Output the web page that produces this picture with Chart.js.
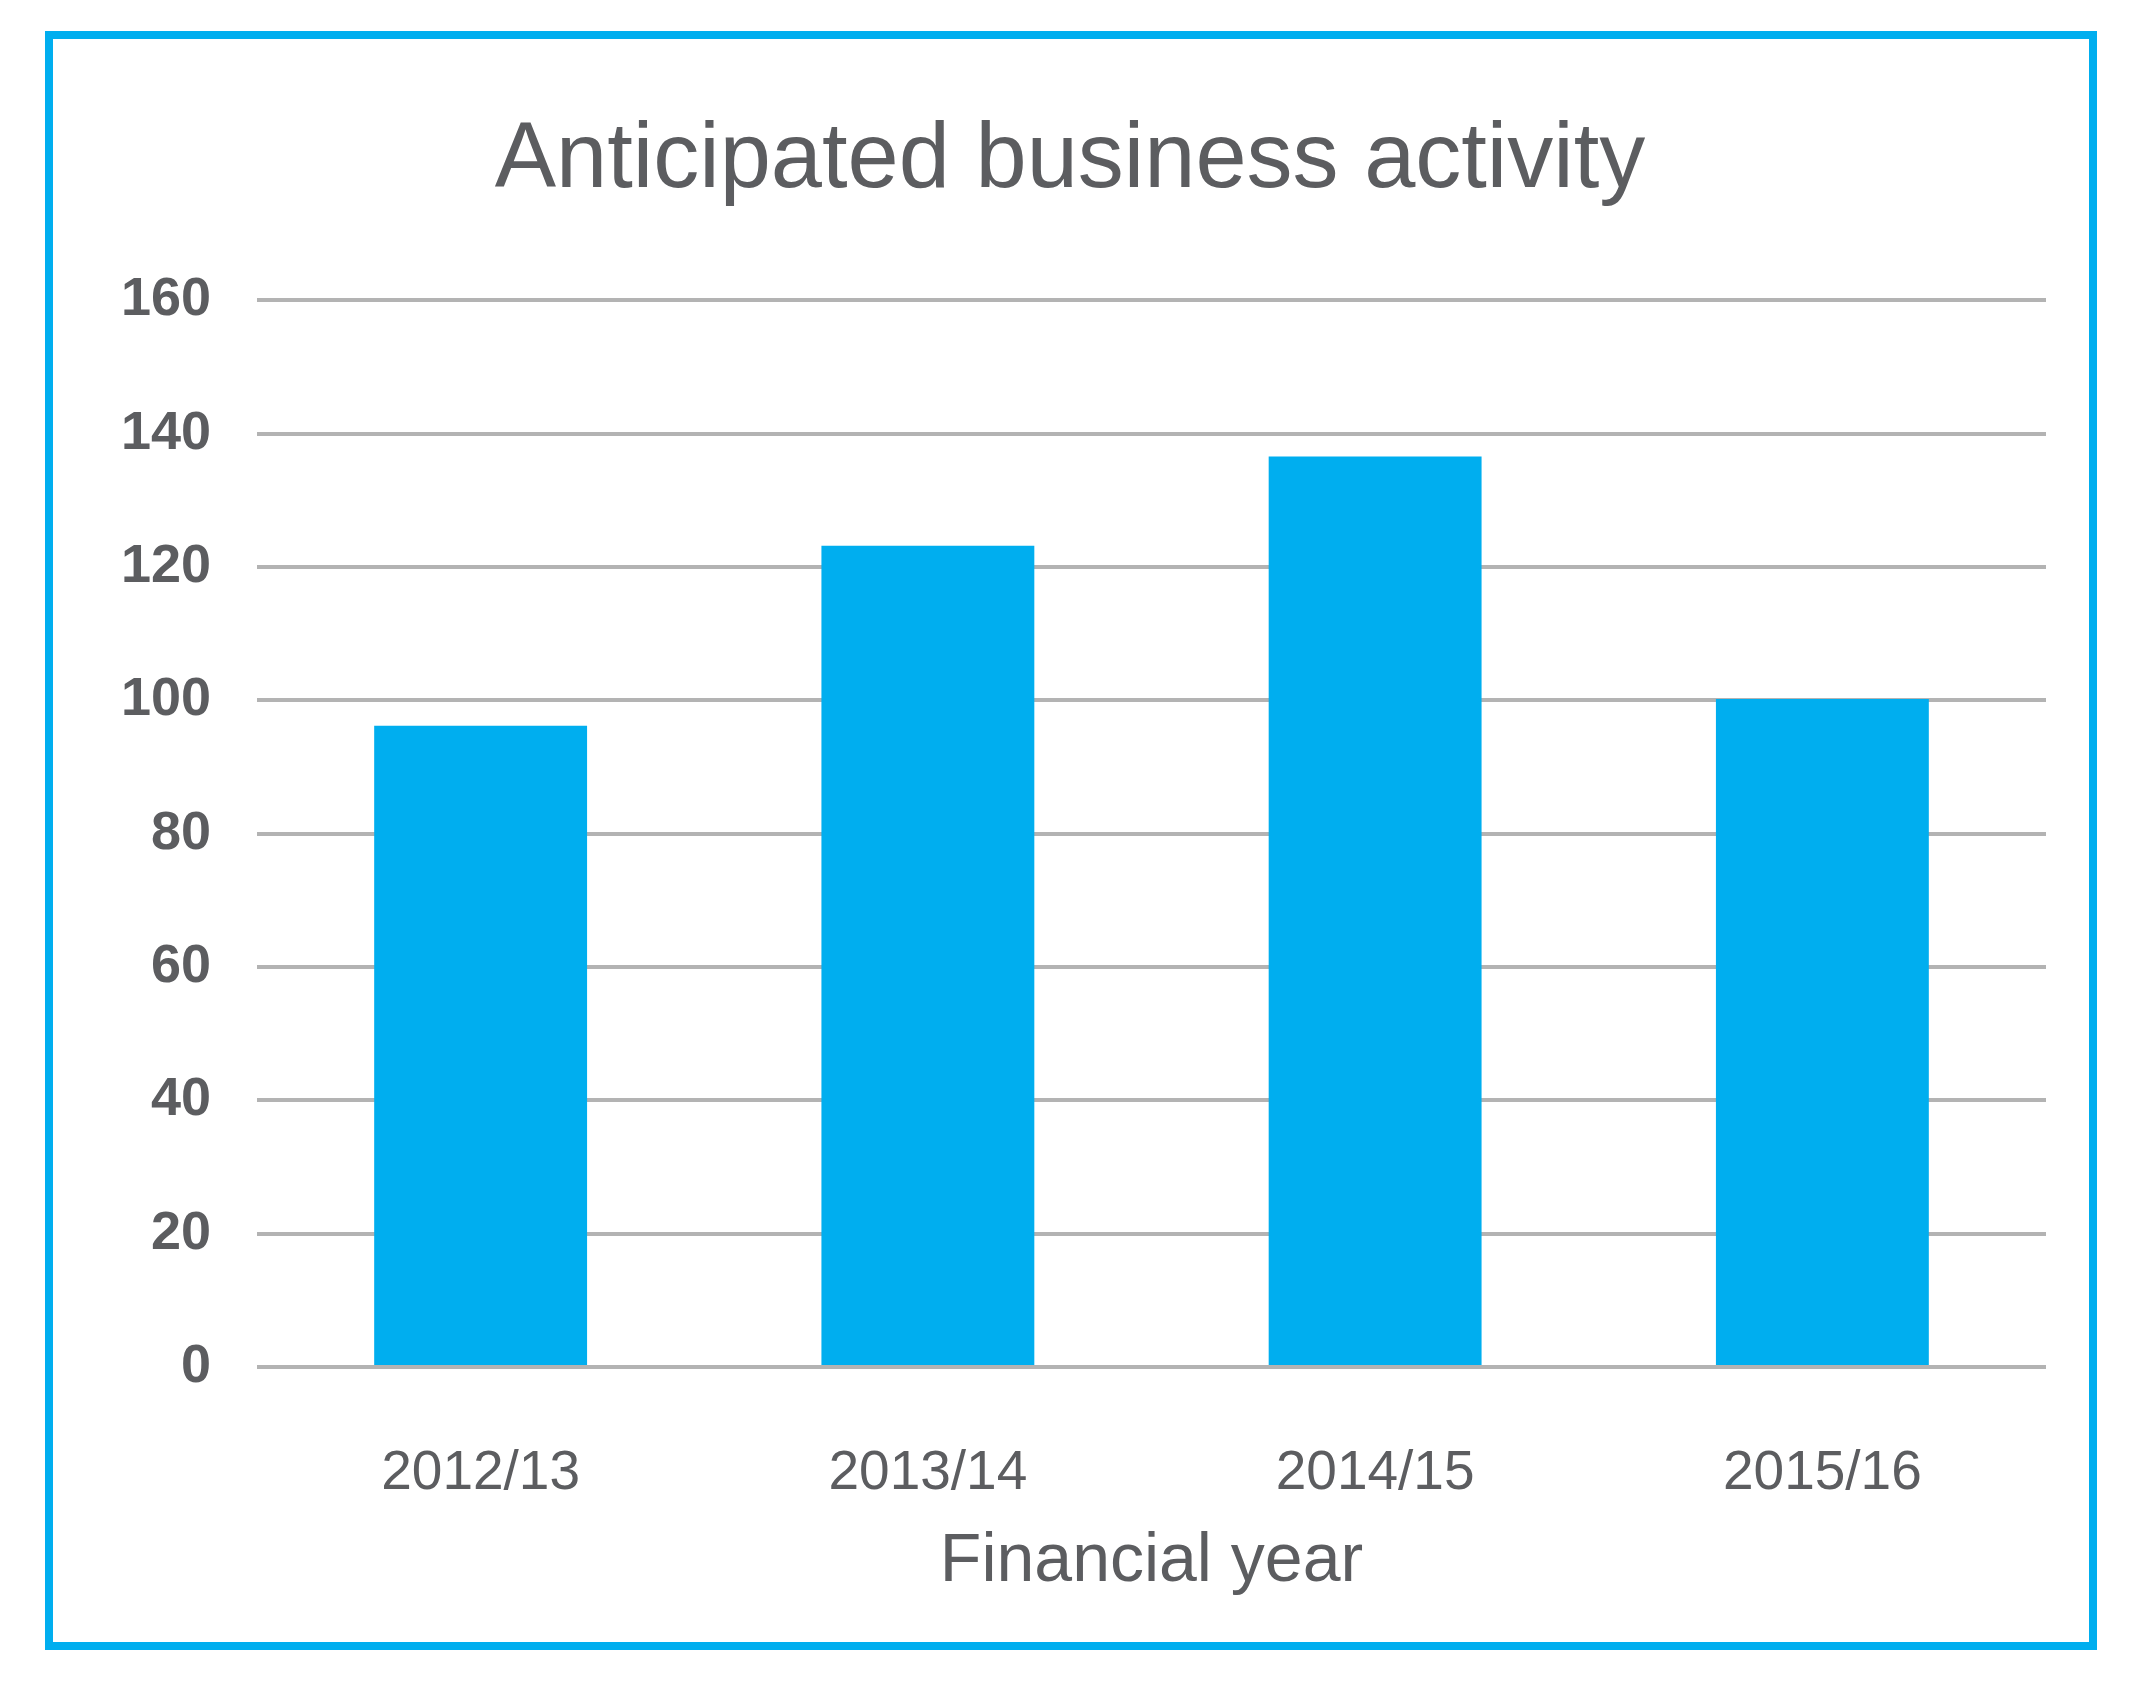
<!DOCTYPE html>
<html>
<head>
<meta charset="utf-8">
<title>Anticipated business activity</title>
<script src="https://cdn.jsdelivr.net/npm/chart.js@4.4.0/dist/chart.umd.min.js"></script>
<style>
    html, body { margin: 0; padding: 0; background: #ffffff; }
    #wrap { position: relative; width: 2145px; height: 1697px; }
    #chart { position: absolute; left: 0; top: 0; }
    #frame {
        position: absolute; left: 45px; top: 31px;
        width: 2052px; height: 1619px;
        box-sizing: border-box;
        border: 8px solid #00aeef;
        pointer-events: none;
    }
</style>
</head>
<body>
<div id="wrap">
    <canvas id="chart" width="2145" height="1697"></canvas>
    <div id="frame"></div>
</div>
<script>
const years = ["2012/13", "2013/14", "2014/15", "2015/16"];
const activity = [96.2, 123.2, 136.6, 100.2];
const yTicks = [0, 20, 40, 60, 80, 100, 120, 140, 160];

const textColor = "#5c5d60";
const barColor = "#00aeef";
const gridColor = "#b3b3b3";
const fontFamily = "'Liberation Sans', Arial, sans-serif";

const ctx = document.getElementById("chart").getContext("2d");
const chart = new Chart(ctx, {
    type: "bar",
    data: {
        labels: years,
        datasets: [{
            label: "Anticipated business activity",
            data: activity,
            backgroundColor: barColor,
            borderWidth: 0,
            barPercentage: 0.476,
            categoryPercentage: 1.0
        }]
    },
    options: {
        responsive: false,
        animation: false,
        devicePixelRatio: 1,
        layout: {
            padding: { left: 94, right: 99, top: 0, bottom: 94 }
        },
        plugins: {
            legend: { display: false },
            tooltip: { enabled: false },
            title: {
                display: true,
                text: "Anticipated business activity",
                color: textColor,
                font: { family: fontFamily, size: 92, weight: "normal", lineHeight: 1.2 },
                padding: { top: 106, bottom: 84 }
            }
        },
        scales: {
            x: {
                afterFit: (scale) => {
                    // fixed band under the plot for labels and axis title
                    scale.height = 236;
                },
                grid: { display: false, drawTicks: false },
                border: { display: false },
                ticks: {
                    color: textColor,
                    padding: 74,
                    font: { family: fontFamily, size: 55, weight: "normal", lineHeight: 1.2 }
                },
                title: {
                    display: true,
                    text: "Financial year",
                    color: textColor,
                    font: { family: fontFamily, size: 68, weight: "normal", lineHeight: 1.2 },
                    padding: { top: 18, bottom: 0 }
                }
            },
            y: {
                min: 0,
                max: 160,
                afterBuildTicks: (scale) => {
                    scale.ticks = yTicks.map(v => ({ value: v }));
                },
                afterFit: (scale) => {
                    scale.width = 163;
                },
                grid: {
                    color: gridColor,
                    lineWidth: 4,
                    drawTicks: false
                },
                border: { display: false },
                ticks: {
                    color: textColor,
                    padding: 46,
                    font: { family: fontFamily, size: 54, weight: "bold", lineHeight: 1.2 }
                }
            }
        }
    }
});
</script>
</body>
</html>
